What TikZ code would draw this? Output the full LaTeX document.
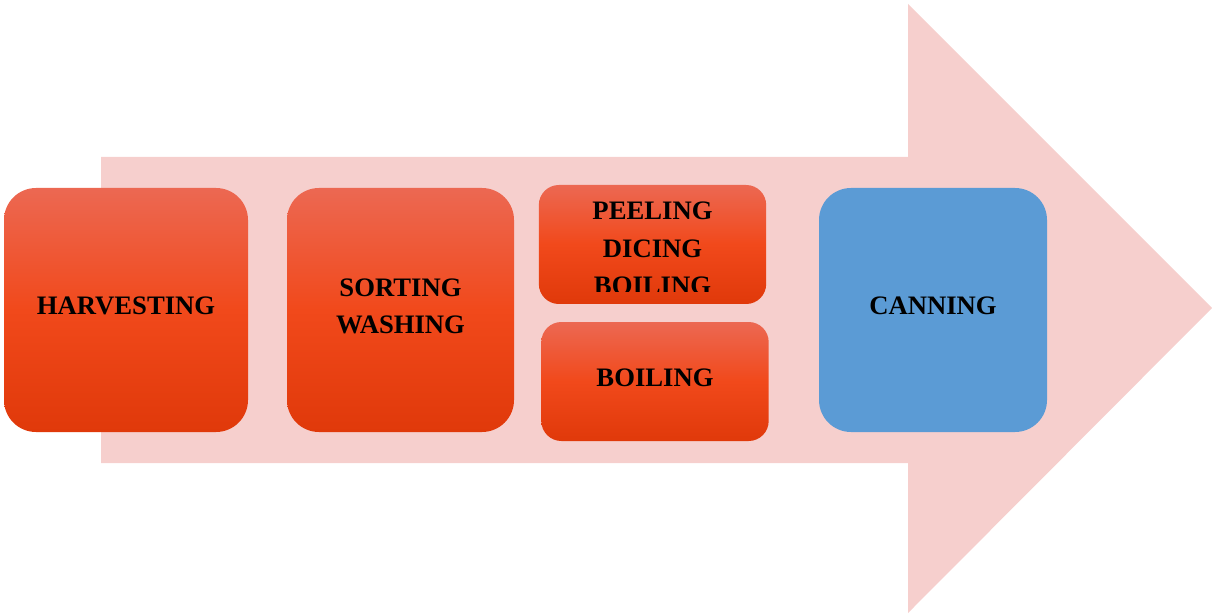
\documentclass[tikz,border=0pt]{standalone}
\usepackage{fontspec}
\setmainfont{Liberation Serif}
\definecolor{arrowpink}{HTML}{F6CFCD}
\definecolor{stepblue}{HTML}{5B9BD5}
\definecolor{redtop}{HTML}{EC6852}
\definecolor{redmid}{HTML}{F1491B}
\definecolor{redbot}{HTML}{E0390A}
\begin{document}
\begin{tikzpicture}[
    x=0.75pt, y=-0.75pt,
    every node/.style={inner sep=0pt, outer sep=0pt, align=center,
        font=\fontsize{20}{28}\selectfont\bfseries},
    redbox/.style={rectangle, rounded corners=24pt,
        top color=redtop, bottom color=redbot, middle color=redmid},
    smallbox/.style={redbox, rounded corners=15pt, minimum width=170.5pt, minimum height=89.25pt},
    bluebox/.style={rectangle, rounded corners=24pt, fill=stepblue},
    steptext/.style={text depth=0pt}
]
\useasboundingbox (0,0) rectangle (1212,616);
% big arrow behind the steps
\fill[arrowpink] (101,157) -- (908,157) -- (908,4) -- (1212,308)
    -- (908,613) -- (908,463) -- (101,463) -- cycle;
\node [redbox, minimum width=183pt, minimum height=183pt] (harvest) at (126,310) {};
\node [steptext] (harvesttext) at (126,306) {HARVESTING};
\node [redbox, minimum width=170.25pt, minimum height=183pt] (sort) at (400.5,310) {};
\node [steptext] (sorttext) at (400.5,306) {SORTING\\WASHING};
\node [smallbox] (peel) at (652.5,244.5) {};
\begin{scope}
    \clip (539,185) rectangle (766,292);
    \node [steptext] (peeltext) at (652.5,248.5) {PEELING\\DICING\\BOILING};
\end{scope}
\node [smallbox] (boil) at (655,381.5) {};
\node [steptext] (boiltext) at (655,378) {BOILING};
\node [bluebox, minimum width=171pt, minimum height=183pt] (can) at (933,310) {};
\node [steptext] (cantext) at (933,306) {CANNING};
\end{tikzpicture}
\end{document}
